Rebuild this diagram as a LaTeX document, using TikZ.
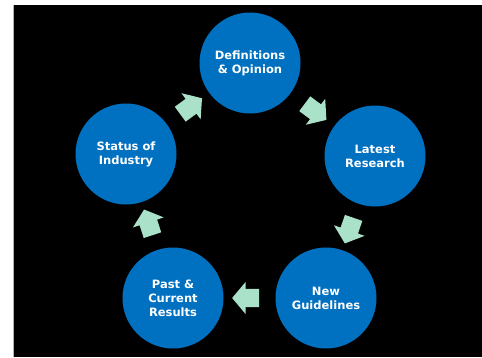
\documentclass[tikz,border=0pt]{standalone}
\usepackage{fontspec}
\setsansfont{DejaVu Sans}
\usepackage{xcolor}
\usepackage{tikz}
\usetikzlibrary{shapes.arrows}
\definecolor{stageblue}{HTML}{0070C0}
\definecolor{flowmint}{HTML}{A9E2C9}

\begin{document}
\begin{tikzpicture}[x=1pt,y=-1pt,
        stage/.style={circle, fill=stageblue, text=white, minimum size=101pt, inner sep=0pt,
            align=center, font=\sffamily\bfseries\fontsize{11.5}{14}\selectfont},
        flow/.style={single arrow, fill=flowmint, minimum height=27pt,
            single arrow head extend=7pt, single arrow tip angle=100,
            inner xsep=0pt, inner ysep=9pt, sloped, allow upside down}]
                \useasboundingbox (0,0) rectangle (482,357);
                \fill[black] (14,5) rectangle (482,357);
                \draw[gray!60, line width=1pt] (13.5,5) -- (13.5,357);
                \node[stage] (defs) at (250,63) {Definitions\\\& Opinion};
                \node[stage] (latest) at (375,156) {Latest\\Research};
                \node[stage] (guide) at (326,298) {New\\Guidelines};
                \node[stage] (past) at (173,298) {Past \&\\Current\\Results};
                \node[stage] (status) at (126,154) {Status of\\Industry};
                % arrows between the stages, clockwise
                \path (defs) -- (latest) node[flow, midway] (f1) {};
                \path (latest) -- (guide) node[flow, midway] (f2) {};
                \path (guide) -- (past) node[flow, midway] (f3) {};
                \path (past) -- (status) node[flow, midway] (f4) {};
                \path (status) -- (defs) node[flow, midway] (f5) {};
            \end{tikzpicture}
\end{document}
